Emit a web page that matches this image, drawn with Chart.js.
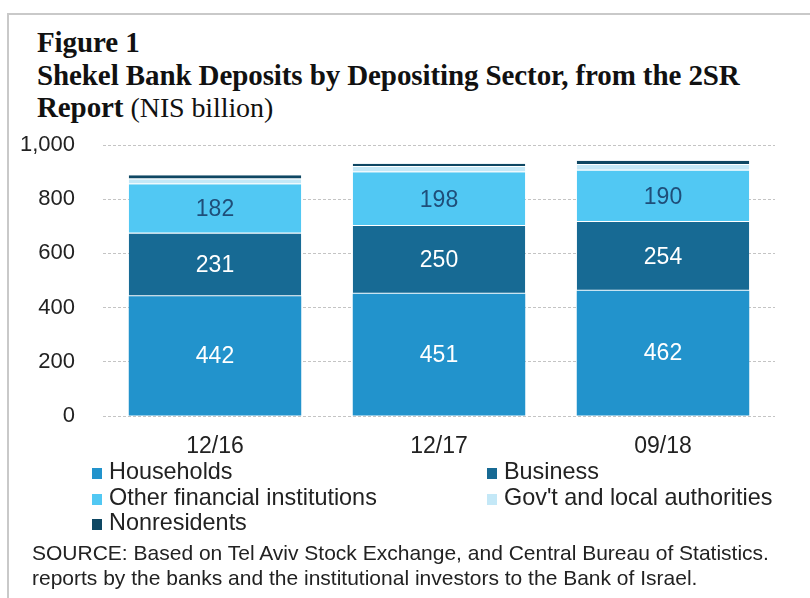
<!DOCTYPE html>
<html>
<head>
<meta charset="utf-8">
<script src="https://cdn.jsdelivr.net/npm/chart.js@4.4.1/dist/chart.umd.min.js"></script>
<style>
  body { margin: 0; background: #fff; font-family: "Liberation Sans", Arial, sans-serif; }
  #page { position: relative; width: 810px; height: 598px; overflow: hidden; }
  #frame { position: absolute; left: 7px; top: 13px; right: -5px; bottom: -5px;
           border-top: 2px solid #c9c9c9; border-left: 2px solid #c9c9c9; }
  #title { position: absolute; left: 37px; top: 26px; font-family: "Liberation Serif", "Times New Roman", serif;
           font-size: 29px; line-height: 32.5px; color: #111; font-weight: bold; white-space: nowrap;
           letter-spacing: -0.1px; }
  #title .unit { font-weight: normal; font-size: 28px; }
  #chart { position: absolute; left: 0; top: 0; }
  #legend { position: absolute; left: 0; top: 458px; font-size: 23.4px; color: #222; }
  .item { position: absolute; white-space: nowrap; line-height: 26px; }
  .box { display: inline-block; width: 10px; height: 11px; margin-right: 7px; vertical-align: 0px; }
  #source { position: absolute; left: 32px; top: 541px; font-size: 21px; line-height: 24.5px; color: #222; white-space: nowrap; }
</style>
</head>
<body>
<div id="page">
  <div id="frame"></div>
  <div id="title">Figure 1<br>Shekel Bank Deposits by Depositing Sector, from the 2SR<br>Report <span class="unit">(NIS billion)</span></div>
  <canvas id="chart" width="810" height="598"></canvas>
  <div id="legend"></div>
  <div id="source">SOURCE: Based on Tel Aviv Stock Exchange, and Central Bureau of Statistics.<br>reports by the banks and the institutional investors to the Bank of Israel.</div>
</div>
<script>
  // data (NIS billion)
  var periods = ['12/16', '12/17', '09/18'];
  var households = [442, 451, 462];
  var business = [231, 250, 254];
  var otherFinancial = [182, 198, 190];
  var government = [19, 20, 20];
  var nonresidents = [14, 12, 16];
  var yTicks = [0, 200, 400, 600, 800, 1000];

  var seriesNames = ['Households', 'Business', 'Other financial institutions', "Gov't and local authorities", 'Nonresidents'];
  var colors = ['#2293cc', '#176a94', '#51c8f3', '#c4e8f7', '#0e4763'];
  var labelColors = ['#ffffff', '#ffffff', '#1f4e79', null, null];

  // writes the values in the middle of the big segments
  var segmentLabels = {
    id: 'segmentLabels',
    afterDatasetsDraw: function(chart) {
      var ctx = chart.ctx;
      ctx.save();
      ctx.font = '23px "Liberation Sans", Arial, sans-serif';
      ctx.textAlign = 'center';
      ctx.textBaseline = 'middle';
      chart.data.datasets.forEach(function(ds, i) {
        if (!labelColors[i]) return;
        chart.getDatasetMeta(i).data.forEach(function(bar, j) {
          ctx.fillStyle = labelColors[i];
          ctx.fillText(ds.data[j], bar.x, (bar.y + bar.base) / 2 + 1);
        });
      });
      ctx.restore();
    }
  };

  var allSeries = [households, business, otherFinancial, government, nonresidents];
  var datasets = allSeries.map(function(d, i) {
    return {
      label: seriesNames[i],
      data: d,
      backgroundColor: colors[i],
      borderColor: 'rgba(255,255,255,0.25)',
      borderWidth: i == 0 ? 0 : { top: 0, bottom: 1, left: 0, right: 0 },
      borderSkipped: false,
      categoryPercentage: 1,
      barPercentage: 0.77
    };
  });

  var chart = new Chart(document.getElementById('chart'), {
    type: 'bar',
    data: { labels: periods, datasets: datasets },
    options: {
      responsive: false,
      animation: false,
      layout: { padding: { top: 145, right: 35, left: 0, bottom: 0 } },
      plugins: { legend: { display: false }, tooltip: { enabled: false } },
      scales: {
        x: {
          stacked: true,
          grid: { display: false },
          border: { display: false },
          ticks: { color: '#222', font: { size: 23, family: '"Liberation Sans", Arial' }, padding: 9 },
          afterFit: function(s) { s.height = 182; }
        },
        y: {
          stacked: true,
          min: 0, max: 1000,
          afterBuildTicks: function(s) { s.ticks = yTicks.map(function(v) { return { value: v }; }); },
          grid: { color: '#c4c4c4', drawTicks: false },
          border: { display: false, dash: [3, 2] },
          ticks: { color: '#222', font: { size: 22, family: '"Liberation Sans", Arial' }, padding: 28,
                   callback: function(v) { return v.toLocaleString('en-US'); } },
          afterFit: function(s) { s.width = 103; }
        }
      }
    },
    plugins: [segmentLabels]
  });

  // legend in two columns like the original
  var legendPos = [[92, 0], [487, 0], [92, 25.5], [487, 25.5], [92, 51]];
  var legend = document.getElementById('legend');
  seriesNames.forEach(function(name, i) {
    var el = document.createElement('div');
    el.className = 'item';
    el.style.left = legendPos[i][0] + 'px';
    el.style.top = legendPos[i][1] + 'px';
    el.innerHTML = '<span class="box" style="background:' + colors[i] + '"></span>' + name;
    legend.appendChild(el);
  });
</script>
</body>
</html>
